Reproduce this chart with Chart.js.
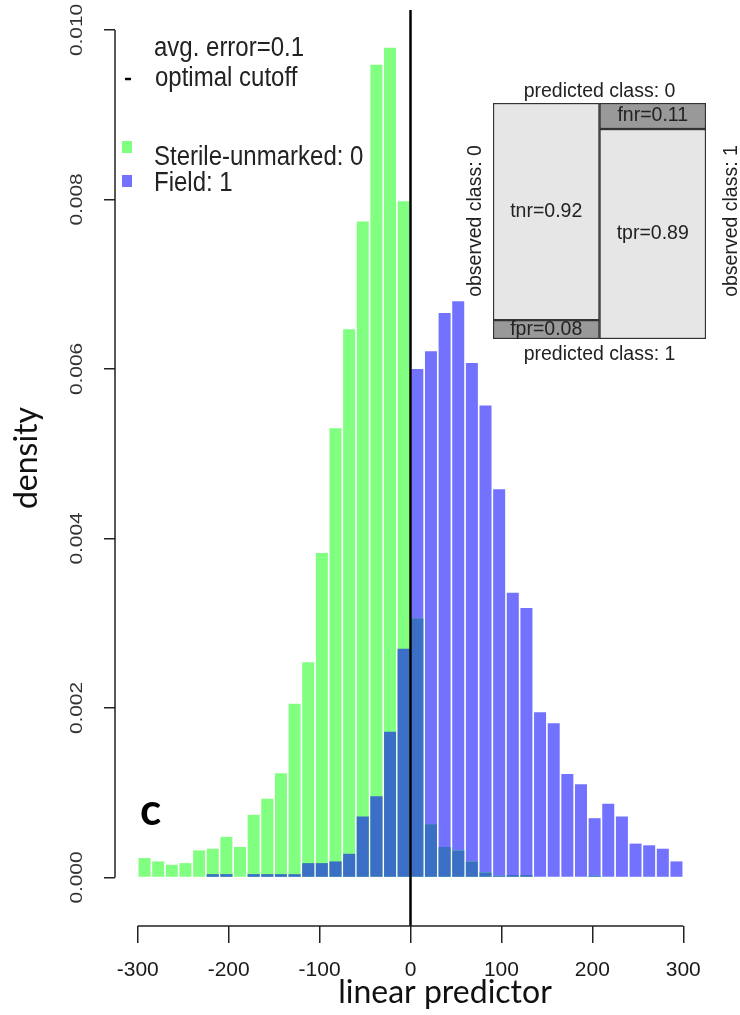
<!DOCTYPE html>
<html>
<head>
<meta charset="utf-8">
<title>Linear predictor density</title>
<script src="https://cdn.jsdelivr.net/npm/chart.js@4.4.1/dist/chart.umd.min.js"></script>
<style>
  html, body { margin: 0; padding: 0; background: #fff; }
  .wrap { position: relative; width: 740px; height: 1015px; }
  canvas { display: block; }
  #inset { position: absolute; left: 440px; top: 60px; }
</style>
</head>
<body>
<div class="wrap">
  <canvas id="main" width="740" height="1015"></canvas>
  <canvas id="inset" width="300" height="320"></canvas>
</div>
<script>
'use strict';

// histogram bins, 15 units wide (centres)
const binCenters = [
  -292.5, -277.5, -262.5, -247.5, -232.5, -217.5, -202.5, -187.5, -172.5, -157.5,
  -142.5, -127.5, -112.5, -97.5, -82.5, -67.5, -52.5, -37.5, -22.5, -7.5,
  7.5, 22.5, 37.5, 52.5, 67.5, 82.5, 97.5, 112.5, 127.5, 142.5,
  157.5, 172.5, 187.5, 202.5, 217.5, 232.5, 247.5, 262.5, 277.5, 292.5
];

// Sterile-unmarked: 0
const sterile = [
  0.00023, 0.00019, 0.00015, 0.00017, 0.00032, 0.00034, 0.00048, 0.00036, 0.00074, 0.00093,
  0.00123, 0.00205, 0.00254, 0.00383, 0.00530, 0.00647, 0.00774, 0.00959, 0.00979, 0.00798,
  0.00306, 0.00063, 0.00036, 0.00032, 0.00019, 0.00006, 0.00002, 0.00003, 0.00003, 0,
  0, 0, 0, 0.00002, 0, 0, 0, 0, 0, 0
];

// Field: 1
const field = [
  0, 0, 0, 0, 0, 0.00004, 0.00004, 0, 0.00004, 0.00004,
  0.00004, 0.00004, 0.00017, 0.00017, 0.00019, 0.00028, 0.00072, 0.00096, 0.00172, 0.00270,
  0.00600, 0.00621, 0.00666, 0.00680, 0.00607, 0.00557, 0.00458, 0.00336, 0.00318, 0.00195,
  0.00182, 0.00122, 0.00110, 0.00070, 0.00087, 0.00072, 0.00040, 0.00038, 0.00034, 0.00019
];

const xTicks = [-300, -200, -100, 0, 100, 200, 300];
const yTicks = [0, 0.002, 0.004, 0.006, 0.008, 0.010];
const cutoff = 0;

// confusion matrix inset, columns = observed class
const observed = ['0', '1'];
const predicted0 = [0.92, 0.11];
const predicted1 = [0.08, 0.89];
const rateNames0 = ['tnr', 'fnr'];
const rateNames1 = ['fpr', 'tpr'];

const GREEN = '#80ff80', BLUE = '#7272ff', DARK = '#3b6fc6';
const LIGHT = '#e6e6e6', GREY = '#999999';
const ARIAL = '"Liberation Sans", Arial, sans-serif';
const Y_MIN = -0.000572, Y_MAX = 0.010236;

const overlap = sterile.map((v, i) => Math.min(v, field[i]));
const pts = arr => arr.map((v, i) => ({x: binCenters[i], y: v}));

// R-like text is a bit taller than wide in the original
function stretchedText(ctx, text, x, y, sy) {
    ctx.save();
    ctx.translate(x, y);
    ctx.scale(1, sy);
    ctx.fillText(text, 0, 0);
    ctx.restore();
}

const rDecor = {
    id: 'rDecor',
    afterDraw(chart) {
        const {ctx, chartArea, scales: {x, y}} = chart;
        ctx.save();

        // axis lines only between first and last tick
        ctx.strokeStyle = '#222';
        ctx.lineWidth = 1.5;
        ctx.beginPath();
        ctx.moveTo(chartArea.left, y.getPixelForValue(yTicks[0]));
        ctx.lineTo(chartArea.left, y.getPixelForValue(yTicks[yTicks.length - 1]));
        ctx.moveTo(x.getPixelForValue(xTicks[0]), chartArea.bottom);
        ctx.lineTo(x.getPixelForValue(xTicks[xTicks.length - 1]), chartArea.bottom);
        ctx.stroke();

        // y tick labels, rotated like R's las=0
        ctx.fillStyle = '#333';
        ctx.font = '16px ' + ARIAL;
        ctx.textAlign = 'center';
        ctx.textBaseline = 'alphabetic';
        yTicks.forEach(v => {
            ctx.save();
            ctx.translate(chartArea.left - 33, y.getPixelForValue(v));
            ctx.rotate(-Math.PI / 2);
            ctx.scale(1.3, 1);
            ctx.fillText(v.toFixed(3), 0, 0);
            ctx.restore();
        });

        // axis titles
        ctx.fillStyle = '#111';
        ctx.font = '32px Lato, "Open Sans", sans-serif';
        ctx.fillText('linear predictor', 445, 1003);
        ctx.save();
        ctx.translate(37, 458);
        ctx.rotate(-Math.PI / 2);
        ctx.fillText('density', 0, 0);
        ctx.restore();

        // legend
        ctx.textAlign = 'left';
        ctx.fillStyle = '#222';
        ctx.font = '24px ' + ARIAL;
        stretchedText(ctx, 'avg. error=0.1', 154, 56, 1.15);
        stretchedText(ctx, 'optimal cutoff', 155, 86, 1.15);
        stretchedText(ctx, 'Sterile-unmarked: 0', 154, 165, 1.15);
        stretchedText(ctx, 'Field: 1', 154, 191, 1.15);
        ctx.strokeStyle = '#000';
        ctx.lineWidth = 2.5;
        ctx.beginPath();
        ctx.moveTo(125, 79);
        ctx.lineTo(131, 79);
        ctx.stroke();
        ctx.fillStyle = GREEN;
        ctx.fillRect(122, 141, 10, 12);
        ctx.fillStyle = BLUE;
        ctx.fillRect(122, 175, 10, 12);

        // panel letter
        ctx.fillStyle = '#000';
        ctx.font = 'bold 44px Lato, sans-serif';
        ctx.fillText('c', 140, 825);

        ctx.restore();
    }
};

const barStyle = {grouped: false, barPercentage: 0.88, categoryPercentage: 1, borderWidth: 0};

new Chart(document.getElementById('main'), {
    type: 'bar',
    data: {
        datasets: [
            {
                type: 'line',
                label: 'optimal cutoff',
                data: [{x: cutoff, y: Y_MIN}, {x: cutoff, y: Y_MAX}],
                borderColor: '#000',
                borderWidth: 2.5,
                pointRadius: 0
            },
            Object.assign({label: 'overlap', data: pts(overlap), backgroundColor: DARK}, barStyle),
            Object.assign({label: 'Sterile-unmarked: 0', data: pts(sterile), backgroundColor: GREEN}, barStyle),
            Object.assign({label: 'Field: 1', data: pts(field), backgroundColor: BLUE}, barStyle)
        ]
    },
    options: {
        responsive: false,
        animation: false,
        layout: {padding: {top: 10, right: 34, left: 0, bottom: 0}},
        scales: {
            x: {
                type: 'linear',
                min: -325,
                max: 325,
                offset: false,
                afterBuildTicks: s => { s.ticks = xTicks.map(v => ({value: v})); },
                afterFit: s => { s.height = 89; },
                border: {display: false},
                grid: {offset: false, drawOnChartArea: false, color: '#222', lineWidth: 1.5, tickLength: 17},
                ticks: {
                    color: '#1a1a1a',
                    font: {family: ARIAL, size: 21},
                    padding: 15,
                    maxRotation: 0,
                    autoSkip: false,
                    callback: v => String(v)
                }
            },
            y: {
                min: Y_MIN,
                max: Y_MAX,
                afterBuildTicks: s => { s.ticks = yTicks.map(v => ({value: v})); },
                afterFit: s => { s.width = 115; },
                border: {display: false},
                grid: {offset: false, drawOnChartArea: false, color: '#222', lineWidth: 1.5, tickLength: 11},
                ticks: {display: false}
            }
        },
        plugins: {
            legend: {display: false},
            tooltip: {enabled: false}
        }
    },
    plugins: [rDecor]
});

// mosaic of the confusion matrix
const insetLabels = {
    id: 'insetLabels',
    afterDatasetsDraw(chart) {
        const {ctx, chartArea} = chart;
        ctx.save();
        ctx.fillStyle = '#222';
        ctx.font = '19.5px ' + ARIAL;
        ctx.textAlign = 'center';
        ctx.textBaseline = 'middle';
        chart.data.datasets.forEach((ds, di) => {
            chart.getDatasetMeta(di).data.forEach((bar, i) => {
                ctx.fillText(ds.names[i] + '=' + ds.data[i].toFixed(2), bar.x, (bar.y + bar.base) / 2);
            });
        });

        const cx = (chartArea.left + chartArea.right) / 2;
        const cy = (chartArea.top + chartArea.bottom) / 2;
        ctx.textBaseline = 'alphabetic';
        ctx.fillText('predicted class: 0', cx, chartArea.top - 6);
        ctx.fillText('predicted class: 1', cx, chartArea.bottom + 21);
        [[chartArea.left - 12, observed[0]], [chartArea.right + 31, observed[1]]].forEach(([px, cls]) => {
            ctx.save();
            ctx.translate(px, cy);
            ctx.rotate(-Math.PI / 2);
            ctx.fillText('observed class: ' + cls, 0, 0);
            ctx.restore();
        });
        ctx.restore();
    }
};

new Chart(document.getElementById('inset'), {
    type: 'bar',
    data: {
        labels: observed,
        datasets: [
            {label: 'predicted class: 0', data: predicted0, names: rateNames0, backgroundColor: [LIGHT, GREY]},
            {label: 'predicted class: 1', data: predicted1, names: rateNames1, backgroundColor: [GREY, LIGHT]}
        ]
    },
    options: {
        responsive: false,
        animation: false,
        layout: {padding: {left: 53, right: 34, top: 43, bottom: 41}},
        datasets: {
            bar: {categoryPercentage: 1, barPercentage: 1, borderColor: '#333', borderWidth: 1.5, borderSkipped: false}
        },
        scales: {
            x: {display: false, stacked: true},
            y: {display: false, stacked: true, reverse: true, min: 0, max: 1}
        },
        plugins: {
            legend: {display: false},
            tooltip: {enabled: false}
        }
    },
    plugins: [insetLabels]
});
</script>
</body>
</html>
